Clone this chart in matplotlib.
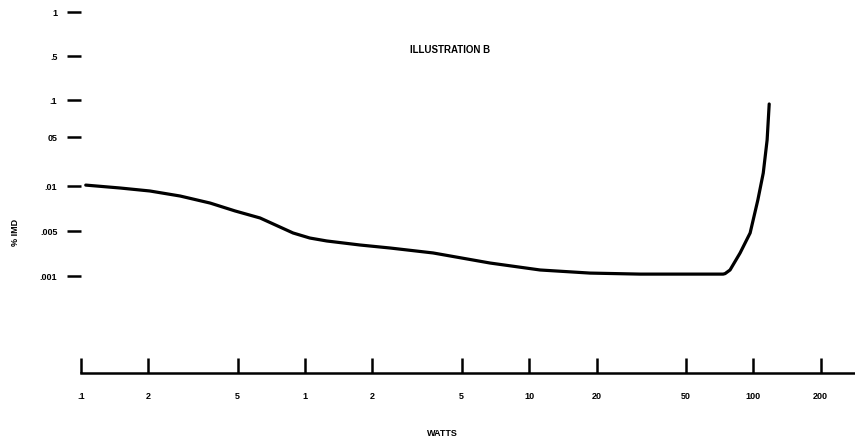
import numpy as np
import matplotlib.pyplot as plt

plt.rcParams['font.family'] = ['Liberation Sans', 'DejaVu Sans']

# curve: watts vs % IMD
watts = [0.105, 0.149, 0.203, 0.277, 0.377, 0.487, 0.630, 0.884, 1.05, 1.25,
         1.76, 2.40, 3.73, 6.70, 11.2, 18.7, 31.3, 73.5, 75.0, 78.9, 87.5,
         97.0, 105, 111, 115.5, 118]
imd = [0.0103, 0.00970, 0.00926, 0.00857, 0.00769, 0.00681, 0.00611, 0.00466,
       0.00389, 0.00350, 0.00303, 0.00272, 0.00228, 0.00159, 0.00124, 0.00111,
       0.00107, 0.00107, 0.00109, 0.00124, 0.00228, 0.00466, 0.00806, 0.0153,
       0.0453, 0.0928]

x_ticks = [0.1, 0.2, 0.5, 1, 2, 5, 10, 20, 50, 100, 200]
x_labels = ['.1', '2', '5', '1', '2', '5', '10', '20', '50', '100', '200']
y_ticks = [0.001, 0.005, 0.01, 0.05, 0.1, 0.5, 1]
y_labels = ['.001', '.005', '.01', '05', '.1', '.5', '1']

# the y axis on the drawing is not a true log axis: ticks are spaced
# almost evenly, so map log values onto the drawn tick spacing
y_log = np.log10(y_ticks)
y_pos = np.array([0, 45, 90, 139, 176, 220, 264], dtype=float)
y_log_ext = np.concatenate([[-5], y_log, [1]])
y_pos_ext = np.concatenate([[-129], y_pos, [410]])


def fwd(v):
    v = np.clip(np.asarray(v, dtype=float), 1e-9, None)
    return np.interp(np.log10(v), y_log_ext, y_pos_ext)


def inv(p):
    return 10 ** np.interp(p, y_pos_ext, y_log_ext)


W, H = 855, 444
fig = plt.figure(figsize=(W / 100, H / 100), dpi=100)

# main plot area
ax = fig.add_axes([81 / W, (H - 290) / H, (W - 81) / W, 285 / H])
ax.set_yscale('function', functions=(fwd, inv))
ax.set_xscale('log')
ax.set_xlim(0.1, 285)
ax.set_ylim(inv(-14), inv(271))
ax.plot(watts, imd, color='black', lw=2.3, solid_capstyle='round',
        solid_joinstyle='round')

for s in ax.spines.values():
    s.set_visible(False)
ax.set_xticks([])
ax.set_xticks([], minor=True)
ax.set_yticks(y_ticks)
ax.set_yticks([], minor=True)
ax.set_yticklabels(y_labels)
ax.tick_params(axis='y', direction='out', length=10, width=1.8, pad=7,
               labelsize=6.5)
for t in ax.get_yticklabels():
    t.set_fontweight('bold')

fig.text(410 / W, 1 - 50 / H, 'ILLUSTRATION B', ha='left', va='center',
         fontsize=7, fontweight='bold')
fig.text(15 / W, 1 - 232 / H, '% IMD', rotation=90, ha='center', va='center',
         fontsize=6.5, fontweight='bold')

# x axis drawn as its own strip underneath
axb = fig.add_axes([81 / W, (H - 373) / H, (W - 81) / W, 30 / H])
axb.set_xscale('log')
axb.set_xlim(0.1, 285)
axb.set_ylim(0, 1)
for k in ['top', 'right', 'left']:
    axb.spines[k].set_visible(False)
axb.spines['bottom'].set_linewidth(1.8)
axb.set_yticks([])
axb.set_xticks(x_ticks)
axb.set_xticks([], minor=True)
axb.set_xticklabels(x_labels)
axb.tick_params(axis='x', direction='in', length=11, width=1.8, pad=14,
                labelsize=6.5)
for t in axb.get_xticklabels():
    t.set_fontweight('bold')
axb.patch.set_alpha(0)

fig.text(442 / W, 1 - 433 / H, 'WATTS', ha='center', va='center',
         fontsize=6.5, fontweight='bold')

fig.savefig('out.png', dpi=100)
